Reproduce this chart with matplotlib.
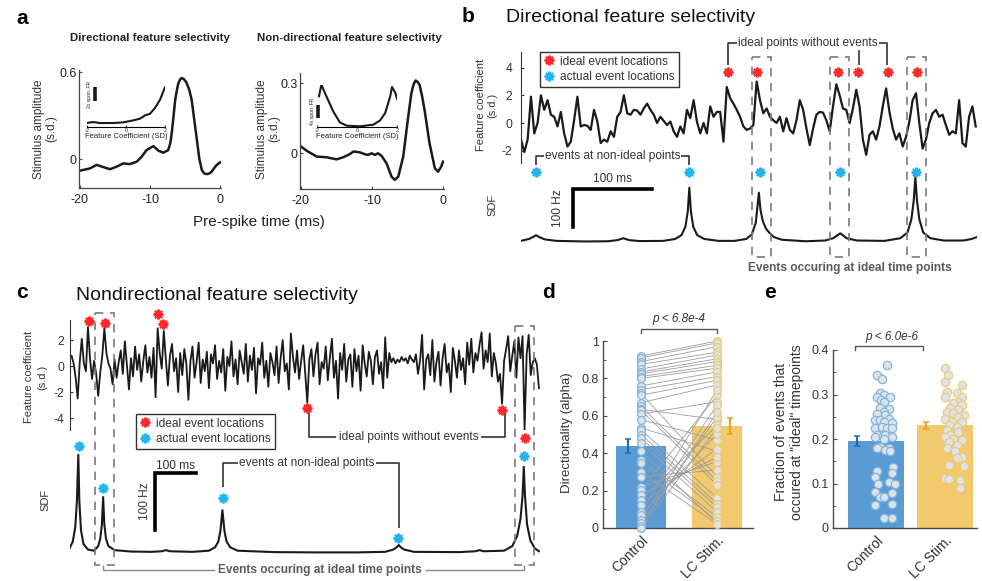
import numpy as np
import matplotlib.pyplot as plt
from matplotlib.lines import Line2D
from matplotlib.patches import Rectangle

plt.rcParams['font.family'] = ['Liberation Sans', 'DejaVu Sans']
plt.rcParams['axes.unicode_minus'] = False

W, H = 982, 581

# ---------------- panel a : spike-triggered averages + nonlinearity insets
a1_t = [-20, -18.6, -17.6, -16.7, -15.7, -14.8, -13.8, -12.9, -11.9, -11.2,
        -10.5, -9.5, -8.8, -8.1, -7.4, -7.1, -6.9, -6.65, -6.4, -6.15,
        -5.95, -5.7, -5.5, -5.2, -4.8, -4.4, -4.05, -3.7, -3.3, -2.95,
        -2.6, -2.25, -1.9, -1.55, -1.2, -0.8, -0.5, 0]
a1_amp = [-0.08, -0.065, -0.04, -0.055, -0.07, -0.053, -0.03, -0.035, -0.018, 0.016,
          0.062, 0.09, 0.058, 0.044, 0.062, 0.11, 0.178, 0.29, 0.41, 0.48,
          0.524, 0.55, 0.56, 0.555, 0.53, 0.48, 0.41, 0.28, 0.132, 0.0,
          -0.076, -0.1, -0.104, -0.1, -0.088, -0.06, -0.042, -0.023]
a1_fc = [-2.0, -1.7, -1.35, -0.65, -0.14, 0.37, 0.71, 0.97, 1.23, 1.48, 1.74, 2.0]
a1_fr = [0.56, 0.70, 0.56, 0.56, 0.65, 0.93, 1.16, 1.63, 1.86, 2.65, 3.81, 5.58]

a2_t = [-20, -19.2, -17.8, -16.4, -15.0, -14.05, -13.1, -12.65, -12.4, -11.7,
        -11.0, -10.55, -10.05, -9.6, -9.15, -8.65, -7.95, -7.25, -6.8, -6.3,
        -5.6, -4.9, -4.45, -4.15, -3.85, -3.55, -3.3, -2.95, -2.6, -1.9,
        -1.15, -0.7, -0.25, 0]
a2_amp = [0.029, 0.011, -0.014, -0.017, -0.026, -0.017, -0.003, 0.007, 0.007, 0.004,
          -0.004, -0.007, 0.0, -0.007, 0.0, -0.011, -0.043, -0.1, -0.114, -0.1,
          -0.014, 0.157, 0.258, 0.295, 0.312, 0.305, 0.293, 0.245, 0.186, 0.043,
          -0.064, -0.079, -0.057, -0.036]
a2_fc = [-1.9, -1.78, -1.53, -1.19, -0.86, -0.52, 0.15, 0.82, 1.16, 1.41, 1.66, 1.75, 1.92, 2.0]
a2_fr = [9.2, 12.7, 9.2, 4.7, 1.4, 0.4, 0.2, 0.7, 2.0, 4.2, 9.2, 12.0, 10.2, 8.5]

# ---------------- panel b : directional example (4.2 ms samples)
b_dt = 4.2
b_feat = [-1.2, -2.1, -1.2, 1.9, -0.75, 0.0, 2.0, 0.95, 1.65, 0.6,
          0.45, -0.25, 0.8, -0.75, -1.7, -1.35, 0.2, 1.9, -0.25, -0.15,
          -0.2, -0.5, 0.95, 0.1, -1.45, -1.2, -1.35, -0.6, -1.0, 0.45,
          0.8, 2.0, 0.7, 0.6, 0.95, 0.9, 0.6, 1.05, 1.4, 0.95,
          0.6, 0.0, 0.45, 0.15, -0.15, 0.1, -0.6, -1.0, -0.25, -0.75,
          0.95, 0.35, 1.65, 0.1, -0.75, 0.0, -0.75, 1.2, 0.45, 0.8,
          0.8, -1.35, 2.6, 1.8, 1.4, 0.95, 0.45, -0.25, -0.5, -0.4,
          -0.15, 3.0, 1.65, 0.7, 1.05, 0.45, 0.2, 0.0, 0.45, -0.6,
          0.35, -0.5, -0.75, 0.2, 1.65, 0.95, -0.4, -1.6, -0.4, 0.6,
          0.8, 0.75, 0.2, -0.6, 1.2, 2.8, 2.0, 1.05, 0.95, 0.0,
          1.05, 2.4, 1.2, -1.2, -2.3, -0.85, -0.6, -1.2, -0.25, 1.2,
          2.5, 0.8, -0.4, -1.2, -0.75, -1.7, -1.0, 0.1, 1.65, 2.15,
          0.0, -1.85, -1.2, 0.0, 0.7, 0.95, 0.45, 0.6, -0.15, -0.85,
          -0.6, -0.75, 1.65, -1.45, -1.7, 0.45, 1.2, -0.25]
b_sdf_t = [0, 10, 15, 19, 23, 30, 45, 80, 110, 122, 129.5, 137, 150, 180, 195, 203, 208,
           211, 213, 215, 218, 223, 232, 250, 270, 285, 292, 297, 299, 301, 303, 306,
           310, 314, 320, 330, 360, 385, 395, 404, 412, 425, 460, 480, 489, 494, 497,
           499, 501, 504, 509, 518, 535, 560, 570, 577]
b_sdf_hz = [3, 8, 13, 18, 13, 7, 3, 1.5, 2, 5, 10, 5, 2.5, 3, 8, 18, 40,
            80, 143, 80, 40, 18, 8, 3, 3, 8, 20, 50, 90, 130, 85, 55,
            35, 25, 13, 6, 2, 4, 10, 23, 10, 4, 3, 10, 25, 60, 110,
            172, 110, 60, 25, 10, 4, 4, 8, 13]
b_ideal_t = [262, 299, 401, 426, 464, 501]
b_ideal_y = [3.7, 3.7, 3.7, 3.7, 3.7, 3.7]
b_actual_t = [19, 213, 302, 404, 500]
b_actual_hz = [184, 184, 184, 184, 184]

# ---------------- panel c : nondirectional example (5 ms samples)
c_dt = 5.0
c_feat = [0.5, 0.8, 0.2, -0.9, -2.5, 0.3, 2.1, 0.2, -0.4, 3.0,
          0.6, -1.0, 0.4, -0.6, -2.3, -0.5, 0.8, 2.9, 1.0, 0.2,
          -0.2, -1.4, 0.5, -0.9, 0.3, 1.2, -0.6, 1.9, 0.1, -1.8,
          0.6, -0.8, 1.5, -0.3, 0.9, -1.2, 0.4, 1.6, -0.5, 0.7,
          -0.9, 1.4, -2.4, 2.9, 1.0, -0.2, 2.7, 0.5, -1.5, 0.8,
          1.7, -0.4, 0.6, -2.0, 1.0, -0.7, 1.3, 0.2, -2.6, 0.4,
          1.5, -0.9, 0.3, 1.8, -1.3, 0.5, -0.4, 1.1, -1.7, 0.9,
          0.2, 1.6, -1.0, 0.4, -0.5, 1.3, -1.9, 0.7, 0.0, 1.9,
          -0.8, 0.5, -1.4, 1.2, 0.3, -0.6, 1.7, -1.2, 0.8, -0.3,
          1.4, -2.1, 0.6, 0.1, 1.8, -0.9, 0.4, -1.6, 1.0, 0.3,
          -0.7, 1.5, -1.3, 0.6, 2.0, -0.4, 0.2, -1.8, 2.5, 0.7,
          -0.5, 1.2, -1.0, 0.4, 1.6, -0.6, -2.8, 0.5, 1.3, -0.8,
          0.9, 1.8, -1.4, 0.3, -0.2, 1.5, -1.1, 0.6, 2.1, -0.9,
          0.4, -2.5, 1.0, -0.3, 1.7, -1.2, 0.5, 0.9, -1.6, 1.3,
          -0.4, 0.8, -1.9, 1.6, 0.2, -0.8, 1.1, 0.4, -1.4, 0.7,
          1.2, -0.6, 0.3, -1.7, 2.2, -0.9, 1.0, 0.3, 0.6, 0.2,
          0.5, 0.3, 0.7, 0.4, 0.6, 0.2, 0.8, 0.5, 0.3, 0.9,
          -0.6, 0.4, 2.4, -1.8, 0.5, 0.9, -0.7, 2.0, -1.2, 0.3,
          1.1, -1.5, 0.6, 1.7, -0.5, 0.2, -2.0, 1.4, 0.4, -0.9,
          1.2, -0.3, 0.6, -1.4, 1.8, 0.1, 2.1, -0.5, 1.0, 0.4,
          1.6, 2.6, -0.2, 1.2, 0.3, 2.5, -0.8, 1.0, 0.2, -1.2,
          -0.6, -2.9, 0.4, 1.3, 2.3, -0.4, 0.8, 1.9, -0.9, 2.2,
          0.6, 2.3, -4.9, 0.9, 2.4, -0.7, 0.3, 0.6, 0.1, -1.7]
c_sdf_t = [0, 8, 14, 18, 21.5, 24, 28, 34, 45, 60, 70, 75, 79, 82, 85, 89, 95, 110,
           150, 200, 225, 235, 245, 300, 340, 355, 363, 368, 373, 378, 383, 392, 410,
           500, 600, 700, 770, 790, 798, 803, 808, 816, 840, 950, 990, 1000, 1010,
           1060, 1080, 1092, 1100, 1105, 1108, 1111, 1116, 1124, 1135, 1145]
c_sdf_hz = [8, 20, 45, 90, 172, 90, 40, 16, 6, 4, 12, 25, 50, 98, 50, 25, 12, 5,
            2.5, 2, 3, 5, 3, 2, 4, 10, 20, 38, 75, 38, 20, 10, 4,
            1.5, 1, 1, 2, 6, 10, 14, 10, 6, 2, 1.5, 3, 5, 3,
            4, 12, 30, 60, 100, 151, 100, 50, 22, 8, 3]
c_ideal_t = [48, 86, 216, 229, 580, 1056, 1110]
c_ideal_y = [3.5, 3.3, 4.0, 3.2, -3.2, -3.4, -5.5]
c_actual_t = [24, 82, 374, 801, 1108]
c_actual_hz = [188, 114, 96, 26, 170]

# ---------------- panels d, e
groups = ['Control', 'LC Stim.']
d_control = [0.92, 0.91, 0.89, 0.875, 0.85, 0.835, 0.825, 0.81, 0.80, 0.76,
             0.74, 0.72, 0.71, 0.67, 0.65, 0.635, 0.63, 0.61, 0.58, 0.535,
             0.525, 0.50, 0.48, 0.455, 0.41, 0.365, 0.345, 0.30, 0.275, 0.22,
             0.205, 0.175, 0.15, 0.125, 0.085, 0.07, 0.045, 0.025, 0.01, 0.0]
d_lc = [1.0, 0.99, 0.97, 0.94, 0.925, 0.905, 0.89, 0.87, 0.855, 0.835,
        0.81, 0.275, 0.79, 0.765, 0.25, 0.58, 0.23, 0.675, 0.47, 0.41,
        0.16, 0.13, 0.11, 0.085, 0.025, 0.06, 0.04, 0.02, 0.31, 0.355,
        0.71, 0.38, 0.55, 0.425, 0.74, 0.505, 0.66, 0.595, 0.62, 0.535]
d_means = [0.44, 0.547]
d_sem = [0.037, 0.043]
d_p = 'p < 6.8e-4'

e_control = [0.366, 0.344, 0.334, 0.303, 0.299, 0.295, 0.294, 0.288, 0.284, 0.269,
             0.267, 0.261, 0.256, 0.254, 0.246, 0.243, 0.243, 0.239, 0.235, 0.224,
             0.226, 0.224, 0.224, 0.209, 0.209, 0.205, 0.205, 0.199, 0.179, 0.181,
             0.179, 0.175, 0.172, 0.138, 0.127, 0.123, 0.115, 0.104, 0.1, 0.1,
             0.078, 0.082, 0.07, 0.069, 0.052, 0.053, 0.022, 0.022]
e_control_jitter = [0.155, 0.01, 0.08, 0.05, 0.11, 0.2, 0.01, 0.07, 0.11, 0.06,
                    0.18, 0.11, 0.01, 0.13, 0.19, -0.02, 0.06, 0.12, 0.23, -0.015,
                    0.08, 0.155, 0.23, 0.01, 0.13, -0.015, 0.23, 0.11, 0.18, 0.06,
                    0.01, 0.13, 0.2, 0.25, 0.01, 0.23, -0.015, 0.19, 0.03, 0.275,
                    0.23, -0.015, 0.06, 0.11, -0.015, 0.23, 0.11, 0.23]
e_lc = [0.359, 0.344, 0.327, 0.321, 0.306, 0.303, 0.295, 0.295, 0.284, 0.28,
        0.276, 0.269, 0.265, 0.261, 0.258, 0.254, 0.246, 0.249, 0.239, 0.239,
        0.231, 0.228, 0.22, 0.216, 0.209, 0.205, 0.201, 0.198, 0.194, 0.187,
        0.179, 0.172, 0.16, 0.157, 0.142, 0.139, 0.112, 0.109, 0.108, 0.089]
e_lc_jitter = [0, 0.035, 0, 0.24, 0.025, 0.17, 0.24, 0, 0.19, 0.12,
               0.24, 0.07, 0.19, 0.025, 0.12, 0.265, 0, 0.19, 0.1, 0.24,
               0.05, 0.17, 0.025, 0.19, 0.07, 0, 0.12, 0.24, 0.05, 0.17,
               0.025, 0.145, 0.24, 0.17, 0.05, 0.265, 0, 0.05, 0.22, 0.22]
e_means = [0.195, 0.231]
e_sem = [0.011, 0.008]
e_p = 'p < 6.0e-6'

# ---------------- styles
INK = '#1a1a1a'
TXT = '#333333'
RED = '#ff2a2a'
BLUE = '#22b5f0'
BAR_C = ['#5b9bd5', '#f2c96d']
EDGE_C = ['#80b5e0', '#eccb7a']
ERR_C = ['#1f6db3', '#e0a526']
DOT_FILL = '#dfe3e8'

fig = plt.figure(figsize=(W / 100, H / 100), dpi=100)


def px_axes(x0, y0, x1, y1):
    ax = fig.add_axes([x0 / W, 1 - y1 / H, (x1 - x0) / W, (y1 - y0) / H])
    ax.patch.set_visible(False)
    return ax


def only_spines(ax, keep):
    for s in ['left', 'right', 'top', 'bottom']:
        ax.spines[s].set_visible(s in keep)


ov = fig.add_axes([0, 0, 1, 1], zorder=20)
ov.set_xlim(0, W)
ov.set_ylim(H, 0)
ov.axis('off')


def otext(x, y, s, **kw):
    kw.setdefault('ha', 'center')
    kw.setdefault('va', 'center')
    kw.setdefault('color', TXT)
    ov.text(x, y, s, **kw)


def oline(xs, ys, color=TXT, lw=1.2, **kw):
    ov.plot(xs, ys, color=color, lw=lw, solid_capstyle='butt', **kw)


# ================= panel a
def sta_axes(box, t, amp, ylim, ticks, labels):
    ax = px_axes(*box)
    ax.plot(t, amp, color=INK, lw=1.8)
    ax.set_xlim(-20.14, 0.14)
    ax.set_ylim(*ylim)
    ax.set_xticks([-20, -10, 0])
    ax.set_yticks(ticks)
    ax.set_yticklabels(labels)
    only_spines(ax, ['left', 'bottom'])
    for s in ['left', 'bottom']:
        ax.spines[s].set_color('#444444')
        ax.spines[s].set_linewidth(0.9)
    ax.tick_params(axis='y', direction='in', length=2, pad=1.5, labelsize=9, colors='#444444', labelcolor='#222222')
    ax.tick_params(axis='x', direction='in', length=2, pad=4, labelsize=9, colors='#444444', labelcolor='#222222')
    return ax


sta_axes((79, 70, 221, 188), a1_t, a1_amp, (-0.2, 0.616), [0, 0.6], ['0', '0.6'])
sta_axes((300, 73, 444, 189), a2_t, a2_amp, (-0.153, 0.344), [0, 0.3], ['0', '0.3'])


def nl_inset(box, fc, fr, ylim, bar_x, bar_y, bar_lab, lab_x):
    ax = px_axes(*box)
    ax.plot(fc, fr, color=INK, lw=1.5)
    ax.set_xlim(-2, 2)
    ax.set_ylim(*ylim)
    only_spines(ax, ['bottom'])
    ax.spines['bottom'].set_linewidth(0.8)
    ax.set_xticks([-2, 0, 2])
    ax.set_yticks([])
    ax.tick_params(axis='x', direction='in', length=1.5, pad=0.5, labelsize=4, colors='#333333')
    ax.set_xlabel('Feature Coefficient (SD)', fontsize=5.5, labelpad=0.3, color='#222222')
    ax.plot([bar_x, bar_x], bar_y, color=INK, lw=2.6, solid_capstyle='butt', clip_on=False)
    ax.text(lab_x, np.mean(bar_y), bar_lab, rotation=90, fontsize=3.6, ha='center', va='center', color='#222222')


nl_inset((87, 85, 165, 127), a1_fc, a1_fr, (0, 5.9), -1.6, [3.6, 5.6], '2x spon. FR', -1.88)
nl_inset((317, 85, 397, 127), a2_fc, a2_fr, (0, 12.6), -1.97, [2.7, 6.7], '4x spon. FR', -2.2)

otext(22, 18, 'a', fontsize=15, fontweight='bold', color='black')
otext(150, 38, 'Directional feature selectivity', fontsize=8.2, fontweight='bold', color='#222222')
otext(349, 38, 'Non-directional feature selectivity', fontsize=8.2, fontweight='bold', color='#222222')
otext(45, 129, 'Stimulus amplitude\n(s.d.)', fontsize=8.5, rotation=90, linespacing=0.95)
otext(268, 129, 'Stimulus amplitude\n(s.d.)', fontsize=8.5, rotation=90, linespacing=0.95)
otext(259, 222, 'Pre-spike time (ms)', fontsize=11, color='#222222')

# ================= shared bits for b and c
star_kw = dict(ls='none', marker=(8, 2, 0), ms=7, mew=1.5, clip_on=False, zorder=5)
legend_handles = [Line2D([], [], color=RED, label='ideal event locations', **star_kw),
                  Line2D([], [], color=BLUE, label='actual event locations', **star_kw)]


def example_panel(fbox, sbox, dt, feat, flim, fticks, sdf_t, sdf_hz, slim, ideal_t, ideal_y,
                  actual_t, actual_hz, t_end, trace_lw, tick_pad, scalebar, leg_xy):
    axf = px_axes(*fbox)
    t = np.arange(len(feat)) * dt
    axf.plot(t, feat, color=INK, lw=trace_lw)
    axf.plot(ideal_t, ideal_y, color=RED, **star_kw)
    axf.set_xlim(0, t_end)
    axf.set_ylim(*flim)
    axf.set_yticks(fticks)
    axf.set_xticks([])
    only_spines(axf, ['left'])
    axf.spines['left'].set_color('#333333')
    axf.tick_params(axis='y', direction='in', length=2.5, pad=tick_pad, labelsize=8.7, colors='#333333')
    leg = axf.legend(handles=legend_handles, loc='upper left', bbox_to_anchor=(leg_xy[0] / W, 1 - leg_xy[1] / H),
                     bbox_transform=fig.transFigure, fontsize=8.6, frameon=True, fancybox=False,
                     edgecolor='#333333', framealpha=1, borderpad=0.3, labelspacing=0.3,
                     handlelength=0.9, handletextpad=0.5, borderaxespad=0)
    leg.get_frame().set_linewidth(1.0)
    for txt in leg.get_texts():
        txt.set_color(TXT)

    axs = px_axes(*sbox)
    axs.plot(sdf_t, sdf_hz, color=INK, lw=1.5)
    axs.plot(actual_t, actual_hz, color=BLUE, **star_kw)
    axs.set_xlim(0, t_end)
    axs.set_ylim(*slim)
    axs.axis('off')
    t0, hz0, tx_ms, tx_hz = scalebar
    axs.plot([t0 + 100, t0, t0], [hz0, hz0, hz0 - 100], color='black', lw=2.6, clip_on=False,
             solid_joinstyle='miter')
    axs.text(t0 + 50, tx_ms, '100 ms', fontsize=8.6, ha='center', va='center', color=TXT)
    axs.text(tx_hz, hz0 - 50, '100 Hz', fontsize=8.6, rotation=90, ha='center', va='center', color=TXT)


dash = (0, (5, 4))

# ================= panel b
example_panel((521, 52, 977, 163), (521, 160, 977, 250), b_dt, b_feat, (-2.89, 5.13), [-2, 0, 2, 4],
              b_sdf_t, b_sdf_hz, (-21, 216), b_ideal_t, b_ideal_y, b_actual_t, b_actual_hz,
              577, 1.6, 6, (66, 139.5, 166, 47), (540, 52))

for x0, x1 in [(752, 771), (830, 849), (907, 926)]:
    ov.add_patch(Rectangle((x0, 57), x1 - x0, 200, fill=False, ls=dash, ec='#7a7a7a', lw=1.2))

otext(468, 17, 'b', fontsize=15, fontweight='bold', color='black')
otext(506, 18, 'Directional feature selectivity', fontsize=14, ha='left', color='#111111')
otext(486.5, 105, 'Feature coefficient\n(s.d.)', fontsize=8, rotation=90)
otext(492, 205, 'SDF', fontsize=8, rotation=90)
oline([728, 728, 737], [65, 43, 43])
oline([879, 887, 887], [43, 43, 65])
oline([859, 859], [50, 65])
otext(808, 43, 'ideal points without events', fontsize=8.6)
oline([536, 536, 544], [165, 156, 156])
oline([681, 689, 689], [156, 156, 165])
otext(612.5, 156, 'events at non-ideal points', fontsize=8.6)
otext(849.5, 268, 'Events occuring at ideal time points', fontsize=8.6, fontweight='bold', color='#5a5a5a')

# ================= panel c
example_panel((69.5, 320, 539.6, 430), (69.5, 440, 539.6, 575), c_dt, c_feat, (-4.92, 3.54), [-4, -2, 0, 2],
              c_sdf_t, c_sdf_hz, (-38.6, 198), c_ideal_t, c_ideal_y, c_actual_t, c_actual_hz,
              1146.6, 1.3, 4, (208.5, 140.4, 152.6, 183), (136, 414))

for x0, y0, x1 in [(95, 313, 114), (515, 326, 534)]:
    ov.add_patch(Rectangle((x0, y0), x1 - x0, 565 - y0, fill=False, ls=dash, ec='#7a7a7a', lw=1.2))

otext(22, 293, 'c', fontsize=15, fontweight='bold', color='black')
otext(76, 296, 'Nondirectional feature selectivity', fontsize=14, ha='left', color='#111111')
otext(36, 377, 'Feature coefficient\n(s.d.)', fontsize=8, rotation=90, linespacing=1.4)
otext(45, 500, 'SDF', fontsize=8, rotation=90)
oline([309, 309, 336], [413, 437, 437])
oline([481, 505, 505], [437, 437, 414])
otext(408.5, 437, 'ideal points without events', fontsize=8.6)
oline([222.6, 222.6, 238], [487, 463, 463])
oline([376, 398.6, 398.6], [463, 463, 528])
otext(307, 463, 'events at non-ideal points', fontsize=8.6)
oline([103.3, 103.3, 215], [565, 570, 570], color='#8a8a8a', lw=1)
oline([425, 523.8, 523.8], [570, 570, 565], color='#8a8a8a', lw=1)
otext(320, 570, 'Events occuring at ideal time points', fontsize=8.6, fontweight='bold', color='#5a5a5a')


# ================= panels d, e
def bar_axes(box, xlim, ylim, major, minor):
    ax = px_axes(*box)
    ax.set_xlim(*xlim)
    ax.set_ylim(*ylim)
    only_spines(ax, ['left', 'bottom'])
    for s in ['left', 'bottom']:
        ax.spines[s].set_color('#4a4a4a')
        ax.spines[s].set_linewidth(1.0)
    ax.set_yticks(major)
    ax.set_yticks(minor, minor=True)
    ax.tick_params(axis='y', which='both', direction='in', colors='#4a4a4a', labelcolor='#333333', labelsize=9, pad=3)
    ax.tick_params(axis='y', which='major', length=3)
    ax.tick_params(axis='y', which='minor', length=2)
    ax.set_xticks([1, 2])
    ax.set_xticklabels(groups, rotation=45, ha='right', rotation_mode='anchor', fontsize=10, color='#333333')
    ax.tick_params(axis='x', length=0, pad=4)
    return ax


dot_kw = dict(ls='none', marker='o', mfc=DOT_FILL, mew=0.9, clip_on=False, zorder=4)

axd = bar_axes((603, 341, 753, 528), (0.5, 2.47), (0, 1), [0, 0.2, 0.4, 0.6, 0.8, 1.0],
               np.arange(0.1, 1.0, 0.2))
axd.set_yticklabels(['0', '0.2', '0.4', '0.6', '0.8', '1'])
axd.bar([1, 2], d_means, width=0.66, color=BAR_C, zorder=1)
for c_val, l_val in zip(d_control, d_lc):
    axd.plot([1, 2], [c_val, l_val], color='#9c9c9c', lw=0.6, zorder=2)
axd.plot(np.full(len(d_control), 1.0), d_control, mec=EDGE_C[0], ms=5.6, **dot_kw)
axd.plot(np.full(len(d_lc), 2.0), d_lc, mec=EDGE_C[1], ms=5.6, **dot_kw)
for xe, m, s, col in zip([0.83, 2.17], d_means, d_sem, ERR_C):
    axd.errorbar(xe, m, yerr=s, fmt='none', ecolor=col, elinewidth=1.6, capsize=2.5, capthick=1.1, zorder=5)
axd.plot([1, 1, 2, 2], [1.043, 1.064, 1.064, 1.043], color='#555555', lw=1, clip_on=False)
axd.text(1.5, 1.118, d_p, fontsize=8.5, style='italic', ha='center', va='center', color=TXT)

axe = bar_axes((833, 350, 977, 528), (0.377, 2.46), (0, 0.4), [0, 0.1, 0.2, 0.3, 0.4],
               np.arange(0.05, 0.4, 0.1))
axe.set_yticklabels(['0', '0.1', '0.2', '0.3', '0.4'])
axe.bar([1, 2], e_means, width=0.81, color=BAR_C, zorder=1)
axe.plot(1 + np.array(e_control_jitter), e_control, mec=EDGE_C[0], ms=6, **dot_kw)
axe.plot(2 + np.array(e_lc_jitter), e_lc, mec=EDGE_C[1], ms=6, **dot_kw)
for xe, m, s, col in zip([0.72, 1.725], e_means, e_sem, ERR_C):
    axe.errorbar(xe, m, yerr=s, fmt='none', ecolor=col, elinewidth=1.6, capsize=2.5, capthick=1.1, zorder=5)
axe.plot([0.70, 0.70, 1.68, 1.68], [0.4, 0.409, 0.409, 0.4], color='#555555', lw=1, clip_on=False)
axe.text(1.23, 0.429, e_p, fontsize=8.5, style='italic', ha='center', va='center', color=TXT)

otext(549, 292, 'd', fontsize=15, fontweight='bold', color='black')
otext(770, 292, 'e', fontsize=15, fontweight='bold', color='black')
otext(567, 433, 'Directionality (alpha)', fontsize=9.5, rotation=90)
otext(789, 432, 'Fraction of events that\noccured at "ideal" timepoints', fontsize=10, rotation=90, linespacing=1.15)

fig.savefig('out.png', dpi=100)
